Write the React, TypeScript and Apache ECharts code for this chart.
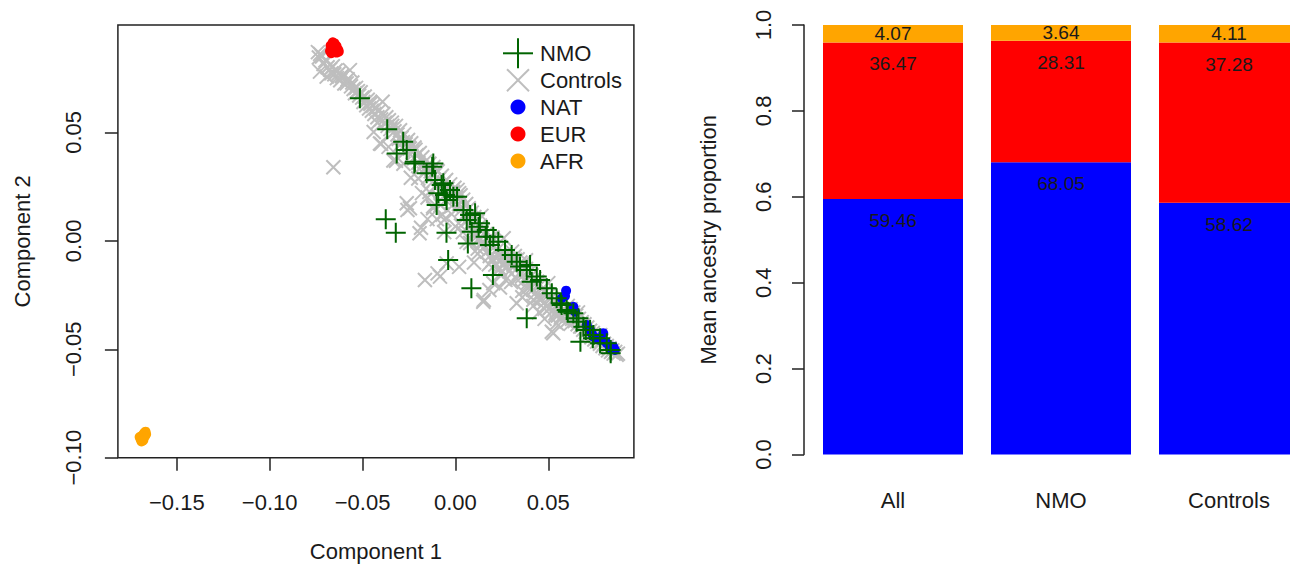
import React, { useEffect, useRef } from 'react';
import * as echarts from 'echarts';

// ---------- Scatter data (Component 1, Component 2) ----------
const controlPoints: number[][] = [
  [-0.0740, 0.0870], [-0.0728, 0.0862], [-0.0735, 0.0845], [-0.0718, 0.0850], [-0.0729, 0.0780],
  [-0.0710, 0.0815], [-0.0700, 0.0832], [-0.0693, 0.0757], [-0.0688, 0.0800], [-0.0675, 0.0790],
  [-0.0668, 0.0772], [-0.0660, 0.0805], [-0.0652, 0.0768], [-0.0645, 0.0785], [-0.0638, 0.0750],
  [-0.0630, 0.0770], [-0.0620, 0.0740], [-0.0612, 0.0760], [-0.0604, 0.0757], [-0.0598, 0.0725],
  [-0.0585, 0.0726], [-0.0580, 0.0745], [-0.0568, 0.0787], [-0.0562, 0.0712], [-0.0555, 0.0730],
  [-0.0548, 0.0700], [-0.0541, 0.0680], [-0.0535, 0.0705], [-0.0525, 0.0690], [-0.0518, 0.0670],
  [-0.0510, 0.0685], [-0.0502, 0.0660], [-0.0657, 0.0339],
  [-0.0495, 0.0640], [-0.0488, 0.0665], [-0.0480, 0.0625], [-0.0472, 0.0650], [-0.0465, 0.0610],
  [-0.0458, 0.0632], [-0.0450, 0.0600], [-0.0443, 0.0622], [-0.0436, 0.0585], [-0.0428, 0.0610],
  [-0.0420, 0.0570], [-0.0412, 0.0598], [-0.0406, 0.0449], [-0.0400, 0.0560], [-0.0392, 0.0641],
  [-0.0388, 0.0585], [-0.0380, 0.0545], [-0.0372, 0.0570], [-0.0365, 0.0530], [-0.0358, 0.0556],
  [-0.0350, 0.0515], [-0.0342, 0.0545], [-0.0334, 0.0370], [-0.0328, 0.0505], [-0.0320, 0.0530],
  [-0.0312, 0.0490], [-0.0305, 0.0470], [-0.0298, 0.0510], [-0.0290, 0.0475], [-0.0283, 0.0455],
  [-0.0275, 0.0492], [-0.0268, 0.0445], [-0.0255, 0.0465], [-0.0250, 0.0430],
  [-0.0262, 0.0173], [-0.0258, 0.0142], [-0.0245, 0.0150], [-0.0193, 0.0035], [-0.0185, 0.0060],
  [-0.0164, -0.0181], [-0.0096, -0.0150], [-0.0083, -0.0165], [-0.0047, -0.0104], [0.0020, -0.0120],
  [0.0150, -0.0281], [0.0153, -0.0273], [0.0183, -0.0227], [0.0204, -0.0196], [0.0240, -0.0215],
  [0.0270, -0.0180], [0.0330, -0.0288], [0.0360, -0.0260], [0.0420, -0.0300], [0.0450, -0.0330],
  [0.0519, -0.0419], [0.0527, -0.0426], [0.0545, -0.0380], [0.0480, -0.0360],
  [-0.0245, 0.0425], [-0.0238, 0.0450], [-0.0230, 0.0410], [-0.0222, 0.0380], [-0.0215, 0.0420],
  [-0.0208, 0.0395], [-0.0200, 0.0360], [-0.0192, 0.0405], [-0.0185, 0.0340], [-0.0178, 0.0385],
  [-0.0170, 0.0310], [-0.0163, 0.0365], [-0.0155, 0.0340], [-0.0148, 0.0290], [-0.0140, 0.0355],
  [-0.0133, 0.0320], [-0.0125, 0.0270], [-0.0118, 0.0340], [-0.0110, 0.0305], [-0.0103, 0.0250],
  [-0.0095, 0.0320], [-0.0088, 0.0285], [-0.0080, 0.0230], [-0.0073, 0.0300], [-0.0065, 0.0265],
  [-0.0058, 0.0210], [-0.0050, 0.0280], [-0.0043, 0.0240], [-0.0035, 0.0190], [-0.0028, 0.0260],
  [-0.0020, 0.0160], [-0.0012, 0.0225], [-0.0005, 0.0245], [-0.0150, 0.0200], [-0.0120, 0.0150],
  [-0.0100, 0.0100], [-0.0070, 0.0120], [-0.0150, 0.0100], [-0.0060, 0.0040],
  [0.0005, 0.0200], [0.0012, 0.0235], [0.0020, 0.0170], [0.0028, 0.0210], [0.0035, 0.0145],
  [0.0042, 0.0190], [0.0050, 0.0120], [0.0058, 0.0170], [0.0065, 0.0095], [0.0072, 0.0150],
  [0.0080, 0.0070], [0.0088, 0.0130], [0.0095, 0.0050], [0.0102, 0.0110], [0.0110, 0.0030],
  [0.0118, 0.0090], [0.0125, 0.0010], [0.0132, 0.0070], [0.0140, -0.0010], [0.0148, 0.0050],
  [0.0155, -0.0030], [0.0162, 0.0030], [0.0170, -0.0050], [0.0178, 0.0010], [0.0185, -0.0070],
  [0.0192, -0.0010], [0.0200, -0.0090], [0.0208, -0.0030], [0.0215, -0.0110], [0.0222, -0.0045],
  [0.0230, -0.0130], [0.0238, -0.0065], [0.0245, -0.0150], [0.0252, -0.0085], [0.0260, -0.0105],
  [0.0268, -0.0060], [0.0275, -0.0120], [0.0282, -0.0080], [0.0290, -0.0140], [0.0298, -0.0095],
  [0.0040, 0.0040], [0.0080, -0.0010], [0.0120, -0.0060], [0.0100, -0.0100],
  [0.0305, -0.0050], [0.0312, -0.0110], [0.0320, -0.0070], [0.0328, -0.0130], [0.0335, -0.0085],
  [0.0342, -0.0150], [0.0350, -0.0100], [0.0358, -0.0165], [0.0365, -0.0115], [0.0372, -0.0180],
  [0.0380, -0.0130], [0.0388, -0.0195], [0.0395, -0.0145], [0.0402, -0.0210], [0.0410, -0.0160],
  [0.0418, -0.0225], [0.0425, -0.0175], [0.0432, -0.0240], [0.0440, -0.0190], [0.0448, -0.0255],
  [0.0455, -0.0205], [0.0462, -0.0270], [0.0470, -0.0220], [0.0478, -0.0285], [0.0485, -0.0235],
  [0.0492, -0.0300], [0.0500, -0.0250], [0.0508, -0.0310], [0.0515, -0.0265], [0.0522, -0.0325],
  [0.0530, -0.0280], [0.0538, -0.0335], [0.0545, -0.0295], [0.0552, -0.0345], [0.0560, -0.0310],
  [0.0568, -0.0355], [0.0575, -0.0320], [0.0582, -0.0365], [0.0590, -0.0335], [0.0598, -0.0372],
  [0.0605, -0.0300], [0.0612, -0.0345], [0.0620, -0.0315], [0.0628, -0.0360], [0.0635, -0.0330],
  [0.0642, -0.0370], [0.0650, -0.0345], [0.0658, -0.0385], [0.0665, -0.0360], [0.0672, -0.0395],
  [0.0680, -0.0375], [0.0688, -0.0410], [0.0695, -0.0385], [0.0702, -0.0420], [0.0710, -0.0400],
  [0.0718, -0.0432], [0.0725, -0.0415], [0.0732, -0.0445], [0.0740, -0.0425], [0.0748, -0.0455],
  [0.0755, -0.0440], [0.0762, -0.0465], [0.0770, -0.0450], [0.0778, -0.0475], [0.0785, -0.0462],
  [0.0792, -0.0485], [0.0800, -0.0475], [0.0808, -0.0495], [0.0815, -0.0485], [0.0822, -0.0505],
  [0.0830, -0.0495], [0.0838, -0.0512], [0.0845, -0.0505], [0.0852, -0.0520], [0.0860, -0.0512],
  [0.0868, -0.0525], [0.0875, -0.0520],
  [-0.0440, 0.0502], [-0.0400, 0.0447], [-0.0360, 0.0433], [-0.0320, 0.0369], [-0.0280, 0.0355],
  [-0.0240, 0.0291], [-0.0200, 0.0287], [-0.0180, 0.0220], [-0.0140, 0.0225], [-0.0120, 0.0158],
  [-0.0080, 0.0164], [-0.0060, 0.0097], [-0.0020, 0.0123], [0.0000, 0.0066], [0.0030, 0.0070],
  [0.0060, -0.0005], [0.0090, 0.0029], [0.0120, -0.0036], [0.0150, -0.0032], [0.0180, -0.0108],
  [0.0210, -0.0073], [0.0240, -0.0129], [0.0270, -0.0124], [0.0300, -0.0190], [0.0330, -0.0176],
  [0.0360, -0.0231], [0.0390, -0.0217], [0.0420, -0.0272], [0.0450, -0.0268], [0.0480, -0.0314],
  [0.0510, -0.0309], [0.0540, -0.0345], [0.0570, -0.0350], [0.0620, -0.0383],
  [-0.0460, 0.0640], [-0.0340, 0.0530], [-0.0220, 0.0430], [-0.0100, 0.0325], [0.0020, 0.0220],
  [0.0140, 0.0115], [0.0260, 0.0012], [0.0380, -0.0090], [0.0500, -0.0195], [0.0660, -0.0330],
  [0.0780, -0.0435],
  [-0.0420, 0.0544], [-0.0300, 0.0442], [-0.0040, 0.0220], [0.0080, 0.0118], [0.0200, 0.0015],
  [0.0320, -0.0087], [0.0440, -0.0190], [0.0560, -0.0292], [0.0680, -0.0394],
];

const nmoPoints: number[][] = [
  [-0.0514, 0.0657], [-0.0367, 0.0514], [-0.0281, 0.0457], [-0.0316, 0.0403], [-0.0262, 0.0419],
  [-0.0221, 0.0357], [-0.0218, 0.0365], [-0.0125, 0.0342], [-0.0119, 0.0357], [-0.0155, 0.0311],
  [-0.0110, 0.0280], [-0.0092, 0.0219], [-0.0074, 0.0257], [-0.0065, 0.0265], [-0.0056, 0.0211],
  [-0.0047, 0.0188], [-0.0029, 0.0234], [-0.0011, 0.0203], [0.0009, 0.0203], [-0.0101, 0.0165],
  [0.0043, 0.0142], [0.0061, 0.0096], [0.0079, 0.0119], [0.0106, 0.0127], [0.0125, 0.0065],
  [0.0132, 0.0081], [0.0088, 0.0042], [0.0067, -0.0012], [0.0163, 0.0019], [0.0169, 0.0050],
  [0.0186, -0.0019], [0.0204, 0.0019], [0.0231, -0.0004], [0.0267, -0.0042], [0.0303, -0.0065],
  [0.0330, -0.0096], [0.0348, -0.0119], [0.0384, -0.0135], [0.0402, -0.0112], [0.0411, -0.0189],
  [0.0438, -0.0165], [0.0456, -0.0181], [0.0492, -0.0219], [0.0519, -0.0242], [0.0545, -0.0265],
  [0.0567, -0.0288], [0.0572, -0.0296], [0.0599, -0.0319], [0.0605, -0.0327], [0.0635, -0.0334],
  [0.0653, -0.0373], [0.0663, -0.0357], [0.0689, -0.0396], [0.0702, -0.0411], [0.0725, -0.0411],
  [0.0740, -0.0449], [0.0743, -0.0434], [0.0779, -0.0449], [0.0779, -0.0472], [0.0815, -0.0472],
  [0.0836, -0.0503], [0.0836, -0.0519],
  [-0.0375, 0.0099], [-0.0321, 0.0037], [-0.0048, 0.0037], [-0.0039, -0.0089], [0.0086, -0.0219],
  [0.0202, -0.0158], [0.0384, -0.0357], [0.0673, -0.0465],
];

const natPoints: number[][] = [
  [0.0596, -0.0230], [0.0590, -0.0254], [0.0572, -0.0265], [0.0635, -0.0304], [0.0644, -0.0327],
  [0.0707, -0.0388], [0.0725, -0.0411], [0.0743, -0.0442], [0.0796, -0.0426], [0.0779, -0.0457],
  [0.0815, -0.0472], [0.0850, -0.0488], [0.0859, -0.0503], [0.0832, -0.0496], [0.0761, -0.0449],
  [0.0734, -0.0426],
];

const eurPoints: number[][] = [
  [-0.0660, 0.0915], [-0.0650, 0.0910], [-0.0672, 0.0900], [-0.0640, 0.0898], [-0.0658, 0.0890],
  [-0.0665, 0.0882], [-0.0645, 0.0885], [-0.0630, 0.0880], [-0.0675, 0.0875], [-0.0655, 0.0870],
  [-0.0640, 0.0868], [-0.0628, 0.0872], [-0.0668, 0.0865],
];

const afrPoints: number[][] = [
  [-0.1668, -0.0880], [-0.1675, -0.0885], [-0.1665, -0.0892], [-0.1680, -0.0893], [-0.1690, -0.0900],
  [-0.1672, -0.0902], [-0.1700, -0.0905], [-0.1685, -0.0910], [-0.1695, -0.0915], [-0.1680, -0.0920],
  [-0.1690, -0.0925],
];

const scatterXTicks = [-0.15, -0.1, -0.05, 0, 0.05];
const scatterYTicks = [-0.1, -0.05, 0, 0.05];
const legendNames = ['NMO', 'Controls', 'NAT', 'EUR', 'AFR'];

// ---------- Bar data (mean ancestry, %) ----------
const barCategories = ['All', 'NMO', 'Controls'];
const natPct = [59.46, 68.05, 58.62];
const eurPct = [36.47, 28.31, 37.28];
const afrPct = [4.07, 3.64, 4.11];

const FONT = "'Liberation Sans', Arial, Helvetica, sans-serif";
const TXT = '#1a1a1a';
const AX = '#222';

const fmtSigned = (v: number) => (v < 0 ? '\u2212' : '') + Math.abs(v).toFixed(2);

export default function App() {
  const ref = useRef<HTMLDivElement>(null);

  useEffect(() => {
    if (!ref.current) return;
    const chart = echarts.init(ref.current, undefined, { renderer: 'svg' });

    const plusPath = 'path://M0,10L20,10M10,0L10,20';
    const crossPath = 'path://M0,0L20,20M0,20L20,0';

    const legendRows = [53.3, 80.2, 107.1, 134, 161];
    const lx = 518;
    const graphic: any[] = [
      { type: 'line', shape: { x1: lx - 15, y1: legendRows[0], x2: lx + 15, y2: legendRows[0] }, style: { stroke: '#006400', lineWidth: 2 } },
      { type: 'line', shape: { x1: lx, y1: legendRows[0] - 15, x2: lx, y2: legendRows[0] + 15 }, style: { stroke: '#006400', lineWidth: 2 } },
      { type: 'line', shape: { x1: lx - 11, y1: legendRows[1] - 11, x2: lx + 11, y2: legendRows[1] + 11 }, style: { stroke: '#BEBEBE', lineWidth: 2 } },
      { type: 'line', shape: { x1: lx - 11, y1: legendRows[1] + 11, x2: lx + 11, y2: legendRows[1] - 11 }, style: { stroke: '#BEBEBE', lineWidth: 2 } },
      { type: 'circle', shape: { cx: lx, cy: legendRows[2], r: 7.5 }, style: { fill: '#0000FF' } },
      { type: 'circle', shape: { cx: lx, cy: legendRows[3], r: 7.5 }, style: { fill: '#FF0000' } },
      { type: 'circle', shape: { cx: lx, cy: legendRows[4], r: 7.5 }, style: { fill: '#FFA500' } },
    ];
    legendNames.forEach((n, i) => {
      graphic.push({
        type: 'text', x: 540, y: legendRows[i],
        style: { text: n, fontSize: 22, fontFamily: FONT, fill: TXT, verticalAlign: 'middle', align: 'left' },
      });
    });

    const option: any = {
      animation: false,
      textStyle: { fontFamily: FONT },
      grid: [
        {
          left: 117.9, right: 1290 - 633.9, top: 25, bottom: 566 - 457.7, show: true,
          borderColor: AX, borderWidth: 1.5, backgroundColor: 'transparent',
          containLabel: false, outerBoundsMode: 'none',
        },
        { left: 809, width: 504, top: 25, bottom: 566 - 454.5, containLabel: false, outerBoundsMode: 'none' },
      ],
      xAxis: [
        {
          gridIndex: 0, type: 'value', min: -0.1817, max: 0.0961,
          axisLine: { show: false, onZero: false },
          splitLine: { show: false },
          axisTick: { show: true, inside: false, length: 13, customValues: scatterXTicks, lineStyle: { color: AX, width: 1.5 } },
          axisLabel: { customValues: scatterXTicks, formatter: fmtSigned, fontSize: 22, color: TXT, margin: 34, fontFamily: FONT },
          name: 'Component 1', nameLocation: 'middle', nameGap: 83,
          nameTextStyle: { fontSize: 22, color: TXT, fontFamily: FONT },
        },
        {
          gridIndex: 1, type: 'category', data: barCategories,
          axisLine: { show: false, onZero: false }, axisTick: { show: false }, splitLine: { show: false },
          axisLabel: { fontSize: 22, color: TXT, margin: 35, fontFamily: FONT },
        },
      ],
      yAxis: [
        {
          gridIndex: 0, type: 'value', min: -0.1, max: 0.0995,
          axisLine: { show: false, onZero: false },
          splitLine: { show: false },
          axisTick: { show: true, inside: false, length: 13, customValues: scatterYTicks, lineStyle: { color: AX, width: 1.5 } },
          axisLabel: { customValues: scatterYTicks, formatter: fmtSigned, rotate: 90, fontSize: 22, color: TXT, margin: 33, fontFamily: FONT },
          name: 'Component 2', nameLocation: 'middle', nameGap: 84, nameRotate: 90,
          nameTextStyle: { fontSize: 22, color: TXT, fontFamily: FONT },
        },
        {
          gridIndex: 1, type: 'value', min: 0, max: 1, interval: 0.2, offset: 5,
          axisLine: { show: true, onZero: false, lineStyle: { color: AX, width: 1.5 } },
          splitLine: { show: false },
          axisTick: { show: true, inside: false, length: 12, lineStyle: { color: AX, width: 1.5 } },
          axisLabel: { formatter: (v: number) => v.toFixed(1), rotate: 90, fontSize: 22, color: TXT, margin: 30, fontFamily: FONT },
          name: 'Mean ancestry proportion', nameLocation: 'middle', nameGap: 85, nameRotate: 90,
          nameTextStyle: { fontSize: 22, color: TXT, fontFamily: FONT },
        },
      ],
      graphic,
      series: [
        {
          name: 'Controls', type: 'scatter', xAxisIndex: 0, yAxisIndex: 0, data: controlPoints,
          symbol: crossPath, symbolSize: 14, silent: true,
          itemStyle: { color: 'rgba(0,0,0,0)', borderColor: '#BEBEBE', borderWidth: 2, opacity: 1 },
          emphasis: { disabled: true },
        },
        {
          name: 'NAT', type: 'scatter', xAxisIndex: 0, yAxisIndex: 0, data: natPoints,
          symbol: 'circle', symbolSize: 10, silent: true,
          itemStyle: { color: '#0000FF', opacity: 1 }, emphasis: { disabled: true },
        },
        {
          name: 'EUR', type: 'scatter', xAxisIndex: 0, yAxisIndex: 0, data: eurPoints,
          symbol: 'circle', symbolSize: 10, silent: true,
          itemStyle: { color: '#FF0000', opacity: 1 }, emphasis: { disabled: true },
        },
        {
          name: 'AFR', type: 'scatter', xAxisIndex: 0, yAxisIndex: 0, data: afrPoints,
          symbol: 'circle', symbolSize: 10, silent: true,
          itemStyle: { color: '#FFA500', opacity: 1 }, emphasis: { disabled: true },
        },
        {
          name: 'NMO', type: 'scatter', xAxisIndex: 0, yAxisIndex: 0, data: nmoPoints,
          symbol: plusPath, symbolSize: 20, silent: true,
          itemStyle: { color: 'rgba(0,0,0,0)', borderColor: '#006400', borderWidth: 2, opacity: 1 },
          emphasis: { disabled: true },
        },
        {
          name: 'NAT bar', type: 'bar', xAxisIndex: 1, yAxisIndex: 1, stack: 'anc', barWidth: 140,
          data: natPct.map((v) => v / 100), itemStyle: { color: '#0000FF' }, silent: true,
          label: { show: true, position: 'insideTop', distance: 12, fontSize: 19, color: TXT, fontFamily: FONT,
            formatter: (p: any) => natPct[p.dataIndex].toFixed(2) },
        },
        {
          name: 'EUR bar', type: 'bar', xAxisIndex: 1, yAxisIndex: 1, stack: 'anc', barWidth: 140,
          data: eurPct.map((v) => v / 100), itemStyle: { color: '#FF0000' }, silent: true,
          label: { show: true, position: 'insideTop', distance: 12, fontSize: 19, color: TXT, fontFamily: FONT,
            formatter: (p: any) => eurPct[p.dataIndex].toFixed(2) },
        },
        {
          name: 'AFR bar', type: 'bar', xAxisIndex: 1, yAxisIndex: 1, stack: 'anc', barWidth: 140,
          data: afrPct.map((v) => v / 100), itemStyle: { color: '#FFA500' }, silent: true,
          label: { show: true, position: 'inside', fontSize: 19, color: TXT, fontFamily: FONT,
            formatter: (p: any) => afrPct[p.dataIndex].toFixed(2) },
        },
      ],
    };

    chart.setOption(option);
    return () => chart.dispose();
  }, []);

  return (
    <div
      ref={ref}
      style={{ position: 'absolute', left: 0, top: 0, width: 1290, height: 566, background: '#fff' }}
    />
  );
}
